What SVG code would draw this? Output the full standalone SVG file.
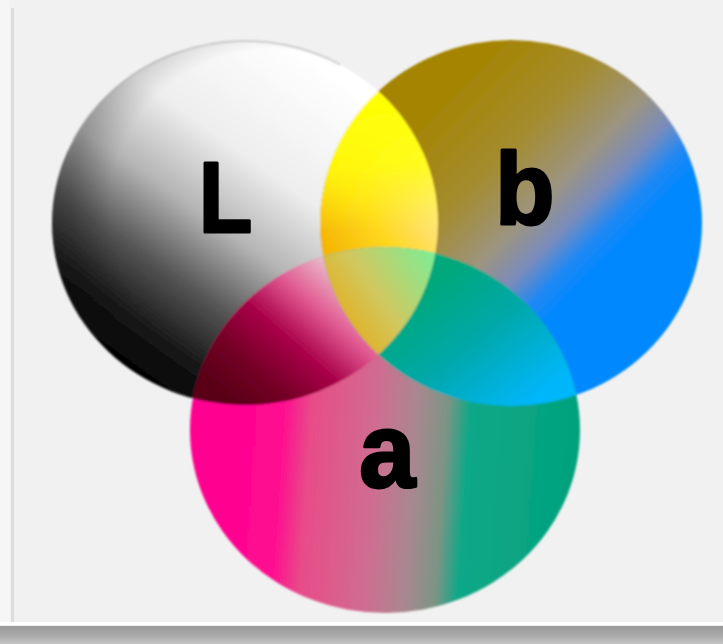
<svg xmlns="http://www.w3.org/2000/svg" width="723" height="644" viewBox="0 0 723 644">
  <style>
    .lbl { font-family: "Liberation Sans", Arial, sans-serif; font-weight: bold; fill: #000; stroke: #000; stroke-width: 3; stroke-linejoin: round; }
  </style>
  <defs>
    <ellipse id="eL" cx="245" cy="223" rx="193" ry="182"/>
    <ellipse id="eB" cx="511" cy="223" rx="191" ry="183"/>
    <ellipse id="eA" cx="385" cy="430" rx="195" ry="183"/>
    <clipPath id="clipL"><use href="#eL"/></clipPath>
    <clipPath id="clipB"><use href="#eB"/></clipPath>
    <clipPath id="clipA"><use href="#eA"/></clipPath>
    <clipPath id="clipTop"><rect x="40" y="30" width="300" height="110"/></clipPath>
    <linearGradient id="frameBottom" x1="0" y1="0" x2="0" y2="1">
      <stop offset="0" stop-color="#ffffff"/>
      <stop offset="0.15" stop-color="#ffffff"/>
      <stop offset="0.2" stop-color="#9a9a9a"/>
      <stop offset="0.6" stop-color="#a8a8a8"/>
      <stop offset="1" stop-color="#c4c4c4"/>
    </linearGradient>
    <linearGradient id="gL" gradientUnits="userSpaceOnUse" x1="330" y1="70" x2="115" y2="370">
      <stop offset="0" stop-color="#ffffff"/>
      <stop offset="0.32" stop-color="#eeeeee"/>
      <stop offset="0.52" stop-color="#b4b4b4"/>
      <stop offset="0.7" stop-color="#555555"/>
      <stop offset="0.86" stop-color="#181818"/>
      <stop offset="1" stop-color="#000000"/>
    </linearGradient>
    <radialGradient id="gLedge" gradientUnits="userSpaceOnUse" cx="270" cy="210" r="200">
      <stop offset="0.8" stop-color="#000" stop-opacity="0"/>
      <stop offset="1" stop-color="#000" stop-opacity="0.18"/>
    </radialGradient>
    <linearGradient id="gB" gradientUnits="userSpaceOnUse" x1="440" y1="95" x2="650" y2="300">
      <stop offset="0" stop-color="#a48400"/>
      <stop offset="0.3" stop-color="#a48c30"/>
      <stop offset="0.5" stop-color="#9c9480"/>
      <stop offset="0.62" stop-color="#7a8cbc"/>
      <stop offset="0.72" stop-color="#2088f4"/>
      <stop offset="0.8" stop-color="#0088ff"/>
      <stop offset="1" stop-color="#0088ff"/>
    </linearGradient>
    <linearGradient id="gA" gradientUnits="userSpaceOnUse" x1="205" y1="430" x2="580" y2="455">
      <stop offset="0" stop-color="#ff0090"/>
      <stop offset="0.2" stop-color="#ff0a90"/>
      <stop offset="0.28" stop-color="#e84c88"/>
      <stop offset="0.45" stop-color="#d06c90"/>
      <stop offset="0.56" stop-color="#a88890"/>
      <stop offset="0.64" stop-color="#7c9484"/>
      <stop offset="0.7" stop-color="#10a888"/>
      <stop offset="1" stop-color="#00a27c"/>
    </linearGradient>
    <linearGradient id="gLB" gradientUnits="userSpaceOnUse" x1="330" y1="260" x2="440" y2="190">
      <stop offset="0" stop-color="#f4b400"/>
      <stop offset="0.45" stop-color="#ffd820"/>
      <stop offset="1" stop-color="#ffe8a0"/>
    </linearGradient>
    <linearGradient id="gLBtop" gradientUnits="userSpaceOnUse" x1="0" y1="100" x2="0" y2="230">
      <stop offset="0" stop-color="#ffff00" stop-opacity="1"/>
      <stop offset="0.5" stop-color="#ffff00" stop-opacity="0.8"/>
      <stop offset="1" stop-color="#ffff00" stop-opacity="0"/>
    </linearGradient>
    <linearGradient id="gLA" gradientUnits="userSpaceOnUse" x1="335" y1="270" x2="225" y2="395">
      <stop offset="0" stop-color="#eab8c8"/>
      <stop offset="0.25" stop-color="#e05890"/>
      <stop offset="0.5" stop-color="#a80048"/>
      <stop offset="0.78" stop-color="#720024"/>
      <stop offset="1" stop-color="#5a0018"/>
    </linearGradient>
    <linearGradient id="gBA" gradientUnits="userSpaceOnUse" x1="450" y1="270" x2="545" y2="390">
      <stop offset="0" stop-color="#00a87c"/>
      <stop offset="0.45" stop-color="#00a8a8"/>
      <stop offset="1" stop-color="#00b6fa"/>
    </linearGradient>
    <linearGradient id="gLBA" gradientUnits="userSpaceOnUse" x1="330" y1="330" x2="440" y2="255">
      <stop offset="0" stop-color="#e8a810"/>
      <stop offset="0.45" stop-color="#d0c860"/>
      <stop offset="1" stop-color="#78f098"/>
    </linearGradient>
    <filter id="soft" x="-5%" y="-5%" width="110%" height="110%">
      <feGaussianBlur stdDeviation="0.9"/>
    </filter>
  </defs>

  <rect x="0" y="0" width="723" height="644" fill="#f1f1f1"/>
  <rect x="0" y="0" width="10" height="626" fill="#f6f6f6"/>
  <rect x="11" y="8" width="3" height="618" fill="#dcdcdc"/>
  <rect x="0" y="622" width="723" height="22" fill="url(#frameBottom)"/>

  <g filter="url(#soft)">
    <g id="circle-L">
      <use href="#eL" fill="url(#gL)"/>
      <use href="#eL" fill="url(#gLedge)"/>
    </g>
    <g id="circle-b">
      <use href="#eB" fill="url(#gB)"/>
    </g>
    <g id="circle-a">
      <use href="#eA" fill="url(#gA)"/>
    </g>
    <g id="overlap-L-b" clip-path="url(#clipL)">
      <use href="#eB" fill="url(#gLB)"/>
      <use href="#eB" fill="url(#gLBtop)"/>
    </g>
    <g id="overlap-L-a" clip-path="url(#clipL)">
      <use href="#eA" fill="url(#gLA)"/>
    </g>
    <g id="overlap-b-a" clip-path="url(#clipB)">
      <use href="#eA" fill="url(#gBA)"/>
    </g>
    <g id="overlap-L-b-a" clip-path="url(#clipL)">
      <g clip-path="url(#clipB)">
        <use href="#eA" fill="url(#gLBA)"/>
      </g>
    </g>
    <g clip-path="url(#clipTop)">
      <use href="#eL" fill="none" stroke="#9a9a9a" stroke-width="1.5" stroke-opacity="0.6"/>
    </g>
  </g>

  <g id="labels">
    <text class="lbl" transform="translate(205,232) scale(0.87,1)" x="-7" y="0" font-size="100">L</text>
    <text class="lbl" transform="translate(502,224) scale(0.95,1)" x="-7" y="0" font-size="102">b</text>
    <text class="lbl" transform="translate(363,487) scale(0.95,1)" x="-4" y="0" font-size="106">a</text>
  </g>
</svg>
